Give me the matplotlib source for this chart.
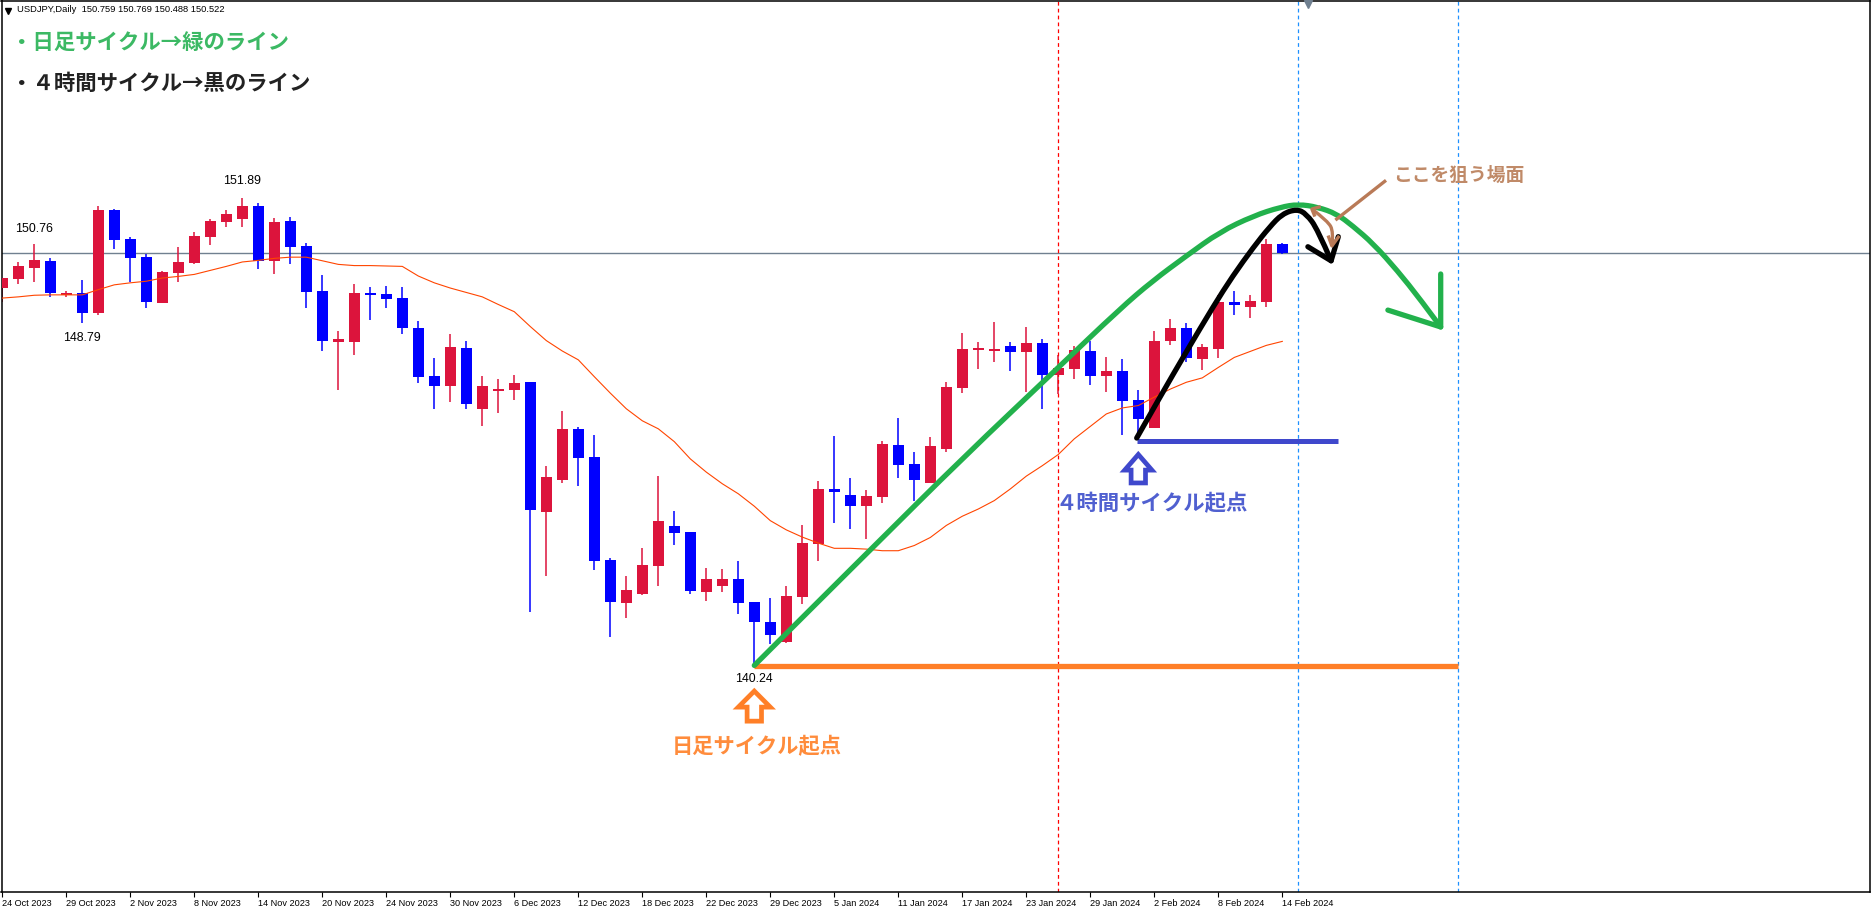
import numpy as np
import matplotlib
matplotlib.use('Agg')
import matplotlib.pyplot as plt
from matplotlib.patches import Polygon, PathPatch
from matplotlib.path import Path

plt.rcParams['font.family'] = ['Noto Sans CJK JP', 'DejaVu Sans']

W, H = 1871, 912

# USDJPY daily candles
opens = [149.65, 149.88, 150.15, 150.33, 149.47, 149.53, 149.03, 151.60, 150.88, 150.43,
         149.28, 150.03, 150.28, 150.93, 151.30, 151.37, 151.70, 150.33, 151.32, 150.70,
         149.58, 148.31, 148.31, 149.53, 149.50, 149.40, 148.66, 147.46, 147.21, 148.16,
         146.64, 147.08, 147.11, 147.31, 144.07, 144.87, 146.14, 145.44, 142.87, 141.80,
         142.02, 142.72, 143.72, 143.57, 142.07, 142.22, 142.40, 141.82, 141.32, 140.82,
         141.95, 143.27, 144.64, 144.49, 144.22, 144.44, 145.74, 145.26, 144.79, 145.64,
         147.16, 148.11, 148.08, 148.21, 148.06, 148.28, 147.48, 147.63, 148.08, 147.46,
         147.58, 146.86, 146.16, 148.33, 148.66, 147.88, 148.13, 149.30, 149.18, 149.30,
         150.759]
highs = [149.90, 150.30, 150.76, 150.40, 149.58, 149.85, 151.70, 151.62, 150.92, 150.50,
         150.08, 150.68, 151.05, 151.37, 151.60, 151.89, 151.77, 151.40, 151.42, 150.78,
         149.98, 148.58, 149.75, 149.68, 149.70, 149.68, 148.83, 147.91, 148.51, 148.33,
         147.46, 147.38, 147.48, 147.31, 145.21, 146.59, 146.19, 145.99, 142.92, 142.47,
         143.17, 144.96, 144.09, 143.57, 142.67, 142.65, 142.85, 141.82, 141.92, 142.22,
         143.74, 144.84, 145.96, 144.91, 144.62, 145.84, 146.41, 145.56, 145.94, 147.31,
         148.53, 148.31, 148.80, 148.31, 148.68, 148.38, 147.98, 148.21, 148.33, 147.93,
         147.88, 147.11, 148.58, 148.88, 148.78, 148.26, 149.48, 149.58, 149.48, 150.88,
         150.769]
lows = [149.30, 149.75, 149.80, 149.43, 149.43, 148.79, 148.98, 150.63, 149.80, 149.15,
        149.28, 149.80, 150.25, 150.73, 151.18, 151.18, 150.13, 150.00, 150.25, 149.15,
        148.08, 147.11, 147.98, 148.86, 149.15, 148.51, 147.28, 146.64, 146.81, 146.64,
        146.21, 146.54, 146.86, 141.57, 142.47, 144.79, 144.72, 142.62, 140.95, 141.42,
        142.00, 142.22, 143.24, 142.02, 141.85, 142.07, 141.52, 140.24, 140.77, 140.80,
        141.77, 142.84, 143.79, 143.64, 143.39, 144.29, 144.91, 144.34, 144.79, 145.56,
        147.03, 147.63, 147.81, 147.58, 147.05, 146.64, 147.01, 147.38, 147.23, 147.06,
        145.99, 145.97, 146.16, 148.23, 147.80, 147.61, 147.91, 148.98, 148.90, 149.18,
        150.488]
closes = [149.90, 150.20, 150.35, 149.53, 149.53, 149.03, 151.60, 150.85, 150.40, 149.30,
          150.05, 150.30, 150.95, 151.32, 151.50, 151.70, 150.33, 151.30, 150.68, 149.55,
          148.33, 148.38, 149.53, 149.48, 149.38, 148.66, 147.43, 147.21, 148.18, 146.76,
          147.21, 147.13, 147.28, 144.12, 144.94, 146.14, 145.41, 142.85, 141.82, 142.12,
          142.75, 143.84, 143.54, 142.10, 142.40, 142.40, 141.80, 141.32, 141.00, 141.97,
          143.29, 144.64, 144.57, 144.22, 144.47, 145.76, 145.24, 144.86, 145.71, 147.18,
          148.13, 148.16, 148.13, 148.06, 148.28, 147.48, 147.66, 148.11, 147.46, 147.58,
          146.84, 146.39, 148.33, 148.66, 147.91, 148.18, 149.30, 149.23, 149.33, 150.75,
          150.522]
ma_line = [149.40, 149.43, 149.47, 149.48, 149.48, 149.48, 149.61, 149.73, 149.78, 149.82,
           149.90, 149.94, 149.99, 150.09, 150.19, 150.30, 150.34, 150.39, 150.42, 150.42,
           150.33, 150.24, 150.21, 150.21, 150.20, 150.19, 149.95, 149.78, 149.65, 149.54,
           149.43, 149.24, 149.06, 148.69, 148.34, 148.08, 147.86, 147.44, 147.03, 146.64,
           146.34, 146.14, 145.82, 145.39, 145.06, 144.77, 144.52, 144.21, 143.85, 143.62,
           143.44, 143.29, 143.16, 143.16, 143.14, 143.10, 143.10, 143.23, 143.43, 143.73,
           143.96, 144.14, 144.35, 144.64, 144.96, 145.22, 145.50, 145.89, 146.20, 146.51,
           146.66, 146.72, 146.93, 147.13, 147.30, 147.41, 147.67, 147.92, 148.07, 148.22,
           148.32]

tick_labels = ['24 Oct 2023', '29 Oct 2023', '2 Nov 2023', '8 Nov 2023', '14 Nov 2023',
               '20 Nov 2023', '24 Nov 2023', '30 Nov 2023', '6 Dec 2023', '12 Dec 2023',
               '18 Dec 2023', '22 Dec 2023', '29 Dec 2023', '5 Jan 2024', '11 Jan 2024',
               '17 Jan 2024', '23 Jan 2024', '29 Jan 2024', '2 Feb 2024', '8 Feb 2024',
               '14 Feb 2024']

# hand drawn lines, in bar number and price
green_x = [47.0, 51.8, 54.3, 60.1, 65.9, 69.85, 71.9, 74.0, 76.1, 78.2, 79.9, 81.0, 82.2, 83.4, 84.4, 85.7, 87.2, 88.6, 89.9]
green_y = [140.24, 142.15, 143.14, 145.44, 147.63, 149.13, 149.83, 150.45, 151.05, 151.45, 151.67, 151.74, 151.67, 151.50, 151.20, 150.75, 150.08, 149.38, 148.68]
green_head_x = [89.9, 89.9, 86.6]
green_head_y = [150.00, 148.68, 149.10]
black_x = [70.9, 72.35, 74.0, 75.7, 76.9, 78.2, 79.2, 80.0, 80.9, 81.5, 82.2, 83.05]
black_y = [145.91, 146.93, 148.06, 149.20, 149.95, 150.67, 151.17, 151.50, 151.62, 151.50, 151.12, 150.33]
black_head_x = [81.6, 83.05, 83.5]
black_head_y = [150.68, 150.33, 150.93]
brown_x = [81.85, 82.85, 83.2, 83.1]
brown_y = [151.62, 151.32, 151.05, 150.70]
brown_pointer_x = [86.4, 83.4]
brown_pointer_y = [152.31, 151.37]
orange_arrow_x = [47.0, 48.0, 47.45, 47.45, 46.55, 46.55, 46.0]
orange_arrow_y = [139.60, 139.20, 139.20, 138.85, 138.85, 139.20, 139.20]
blue_arrow_x = [71.0, 71.85, 71.45, 71.45, 70.55, 70.55, 70.15]
blue_arrow_y = [145.50, 145.11, 145.11, 144.79, 144.79, 145.11, 145.11]


def fx(px):
    return px / W


def fy(py):
    return 1 - py / H


def curve_path(xs, ys):
    """ Smooth path with the read points as bezier control points """
    pts = np.column_stack([xs, ys])
    verts = [pts[0]]
    codes = [Path.MOVETO]
    for i in range(1, len(pts) - 1):
        end = pts[i + 1] if i == len(pts) - 2 else (pts[i] + pts[i + 1]) / 2
        verts += [pts[i], end]
        codes += [Path.CURVE3, Path.CURVE3]
    return Path(verts, codes)


fig = plt.figure(figsize=(W / 100, H / 100), dpi=100, facecolor='white')
ax = fig.add_axes([fx(1.5), fy(893), (1869.5 - 1.5) / W, (893 - 1.5) / H])
ax.set_xlim(-0.05, 116.7)
ax.set_ylim(134.59, 156.82)

bars = np.arange(len(opens))
opens = np.array(opens)
closes = np.array(closes)
colors = ['#DC143C' if c >= o else '#0000FF' for o, c in zip(opens, closes)]

ax.hlines(closes[-1], -1, 120, color='#708090', lw=1.0, zorder=1)
ax.vlines(bars, lows, highs, colors=colors, lw=1.1, zorder=2)
body = np.maximum(np.abs(closes - opens), 0.05)
ax.bar(bars, body, bottom=np.minimum(opens, closes), width=0.69, color=colors, linewidth=0, zorder=3)
ax.plot(bars, ma_line, color='#FF4500', lw=0.8, zorder=4)

for x, color in [(66, '#FF0000'), (81, '#1E90FF'), (91, '#1E90FF')]:
    ax.axvline(x, color=color, lw=0.9, ls=(0, (3, 2.5)), zorder=2)

# labels at the highs and lows
for i, price, off, text in [(2, highs[2], 16, '150.76'), (15, highs[15], 18, '151.89'),
                            (5, lows[5], -14, '148.79'), (47, lows[47], -13, '140.24')]:
    ax.annotate(text, (i, price), xytext=(0, off), textcoords='offset pixels', ha='center',
                va='center', fontsize=8.9, family=['Liberation Sans'], color='black', zorder=6)

# drawings on top of the chart
ax.add_patch(PathPatch(curve_path(green_x, green_y), fc='none', ec='#22B14C', lw=3.8, capstyle='round', zorder=7))
ax.plot(green_head_x, green_head_y, color='#22B14C', lw=3.8, solid_capstyle='round', solid_joinstyle='round', zorder=7)
ax.hlines(lows[47] - 0.02, 47, 91, color='#FF7F27', lw=3.8, zorder=6)
ax.hlines(145.84, 70.9, 83.5, color='#3F48CC', lw=3.6, zorder=6)
ax.add_patch(PathPatch(curve_path(black_x, black_y), fc='none', ec='black', lw=3.8, capstyle='round', zorder=8))
ax.plot(black_head_x, black_head_y, color='black', lw=3.8, solid_capstyle='round', zorder=8)
ax.add_patch(PathPatch(curve_path(brown_x, brown_y), fc='none', ec='#B97A57', lw=2.4, zorder=9))
ax.plot([82.3, 81.85, 82.0], [151.67, 151.62, 151.47], color='#B97A57', lw=2.4, zorder=9)
ax.plot([82.9, 83.1, 83.5], [150.92, 150.70, 150.92], color='#B97A57', lw=2.4, zorder=9)
ax.plot(brown_pointer_x, brown_pointer_y, color='#B97A57', lw=2.4, zorder=9)
ax.add_patch(Polygon(np.column_stack([orange_arrow_x, orange_arrow_y]), closed=True, fc='white', ec='#FF7F27', lw=3.4, zorder=7))
ax.add_patch(Polygon(np.column_stack([blue_arrow_x, blue_arrow_y]), closed=True, fc='white', ec='#3F48CC', lw=3.4, zorder=7))
ax.plot([81.6], [156.73], marker='v', ms=6, color='#708090', clip_on=False, zorder=7)

ax.set_yticks([])
ax.set_xticks(np.arange(0, 81, 4))
ax.set_xticklabels(tick_labels, fontsize=6.6, family=['Liberation Sans'], ha='left')
ax.tick_params(axis='x', length=3.6, width=0.8, pad=1.0, color='black')
for sp in ax.spines.values():
    sp.set_linewidth(1.1)
    sp.set_color('black')

# header and notes
fig.text(fx(17), fy(10), 'USDJPY,Daily  150.759 150.769 150.488 150.522', fontsize=6.75,
         family=['Liberation Sans'], va='center', color='black')
ax.plot([0.33], [156.55], marker='v', ms=4, color='black', clip_on=False, zorder=7)
fig.text(fx(11), fy(42), '・日足サイクル→緑のライン', fontsize=15.4, fontweight='bold', color='#3CB964', va='center')
fig.text(fx(11), fy(83.5), '・４時間サイクル→黒のライン', fontsize=15.4, fontweight='bold', color='#222222', va='center')
fig.text(fx(672), fy(747), '日足サイクル起点', fontsize=15.3, fontweight='bold', color='#FF8C3C', va='center')
fig.text(fx(1055), fy(504), '４時間サイクル起点', fontsize=15.4, fontweight='bold', color='#5060D0', va='center')
fig.text(fx(1393), fy(175), 'ここを狙う場面', fontsize=13.5, fontweight='bold', color='#C08A68', va='center')

fig.savefig('out.png', dpi=100)
